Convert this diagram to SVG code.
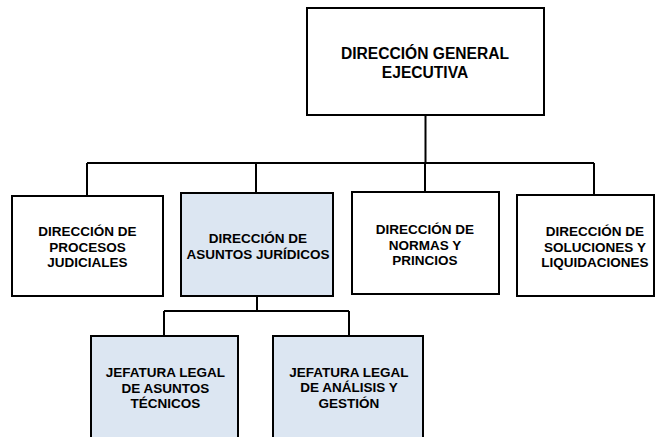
<svg xmlns="http://www.w3.org/2000/svg" width="656" height="437" viewBox="0 0 656 437">
<style>
.box{fill:#ffffff;stroke:#000000;stroke-width:2}
.blue{fill:#dce6f2}
.t{font-family:"Liberation Sans",Arial,sans-serif;font-weight:bold;font-size:13.5px;text-anchor:middle;fill:#000000}
.big{font-size:15.6px}
.c{fill:none;stroke:#000000;stroke-width:2}
</style>
<rect width="656" height="437" fill="#ffffff"/>
<g id="connectors">
<path class="c" d="M425.5 115 V163 M87 163 H594 M87 163 V196 M256 163 V193 M425 163 V192 M594 163 V195"/>
<path class="c" d="M257 296 V311 M164 311 H349 M164 311 V336 M349 311 V336"/>
</g>
<g id="n-general">
<rect class="box" x="307" y="8" width="237" height="107"/>
<text class="t big" x="425" y="58.8">DIRECCIÓN GENERAL</text>
<text class="t big" x="425" y="77.8">EJECUTIVA</text>
</g>
<g id="n-procesos">
<rect class="box" x="12" y="196" width="151" height="100"/>
<text class="t" x="87.5" y="235.8">DIRECCIÓN DE</text>
<text class="t" x="87.5" y="251.5">PROCESOS</text>
<text class="t" x="87.5" y="266.8">JUDICIALES</text>
</g>
<g id="n-asuntos">
<rect class="box blue" x="181" y="193" width="152" height="103"/>
<text class="t" x="258" y="243.1">DIRECCIÓN DE</text>
<text class="t" x="258" y="258.8">ASUNTOS JURÍDICOS</text>
</g>
<g id="n-normas">
<rect class="box" x="352" y="192" width="147" height="102"/>
<text class="t" x="425" y="234.1">DIRECCIÓN DE</text>
<text class="t" x="425" y="249.8">NORMAS Y</text>
<text class="t" x="425" y="264.8">PRINCIOS</text>
</g>
<g id="n-soluciones">
<rect class="box" x="517" y="195" width="137" height="101"/>
<text class="t" x="595" y="235.8">DIRECCIÓN DE</text>
<text class="t" x="595" y="251.5">SOLUCIONES Y</text>
<text class="t" x="595" y="267.1">LIQUIDACIONES</text>
</g>
<g id="n-tecnicos">
<rect class="box blue" x="91" y="336" width="147" height="110"/>
<text class="t" x="165.5" y="377.1">JEFATURA LEGAL</text>
<text class="t" x="165.5" y="393.1">DE ASUNTOS</text>
<text class="t" x="165.5" y="408.1">TÉCNICOS</text>
</g>
<g id="n-analisis">
<rect class="box blue" x="273" y="336" width="150" height="110"/>
<text class="t" x="349" y="376.5">JEFATURA LEGAL</text>
<text class="t" x="349" y="392.1">DE ANÁLISIS Y</text>
<text class="t" x="349" y="407.5">GESTIÓN</text>
</g>
</svg>
